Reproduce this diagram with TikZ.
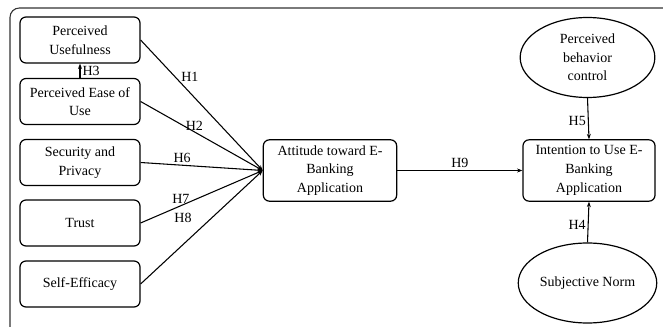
\documentclass[tikz,border=0pt]{standalone}
\usepackage{fontspec}
\setmainfont{Liberation Serif}
\usetikzlibrary{shapes.geometric,arrows.meta}
\begin{document}
\begin{tikzpicture}[
		x=0.75pt, y=-0.75pt,
		>={Stealth[length=4pt,width=3pt]},
		construct/.style={
			draw,
			rounded corners=4.5pt,
			line width=0.9pt,
			minimum width=90pt,
			minimum height=34.5pt,
			inner sep=1pt,
			align=center,
			font=\fontsize{10.5}{14}\selectfont
		},
		latent/.style={
			draw,
			ellipse,
			line width=0.9pt,
			minimum width=101pt,
			minimum height=60pt,
			inner sep=1pt,
			align=center,
			font=\fontsize{10.5}{14}\selectfont
		},
		hyp/.style={->, line width=0.8pt},
		lab/.style={
			font=\fontsize{10.5}{12}\selectfont,
			inner sep=1.5pt
		}
		]
		
		\useasboundingbox (0,0) rectangle (663,327);
		% Frame
		\draw[line width=0.8pt, black!80, rounded corners=7pt] (10,345) -- (10,8) -- (680,8);
		
		% Antecedents
		\node[construct] (pu) at (80,40) {Perceived\\Usefulness};
		\node[construct] (peou) at (80,101.5) {Perceived Ease of\\Use};
		\node[construct] (sp) at (80,162.5) {Security and\\Privacy};
		\node[construct] (trust) at (80,223) {Trust};
		\node[construct] (se) at (80,284) {Self-Efficacy};
		
		% Attitude and intention
		\node[construct, minimum width=100pt, minimum height=46pt] (att) at (330,170.5) {Attitude toward E-\\Banking\\Application};
		\node[construct, minimum width=99pt, minimum height=46pt] (int) at (589,170.5) {Intention to Use E-\\Banking\\Application};
		
		% Ellipses
		\node[latent] (pbc) at (587.5,57.5) {Perceived\\behavior\\control};
		\node[latent] (sn) at (587.5,283) {Subjective Norm};
		
		% Paths to attitude
		\draw[hyp] (pu.east) -- node[lab, pos=0.28, right=3pt] {H1} (att.west);
		\draw[hyp] (peou.east) -- node[lab, pos=0.44, above=-1pt] {H2} (att.west);
		\draw[hyp] (sp.east) -- node[lab, pos=0.34, above] {H6} (att.west);
		\draw[hyp] (trust.east) -- node[lab, pos=0.33, above] {H7} (att.west);
		\draw[hyp] (se.east) -- node[lab, pos=0.58, left=13pt] {H8} (att.west);
		
		% PEOU to PU
		\draw[hyp] (peou.north) -- node[lab, right=0pt] {H3} (pu.south);
		
		% Attitude to intention
		\draw[hyp] (att.east) -- node[lab, above] {H9} (int.west);
		
		% Ellipses to intention
		\draw[hyp] (pbc.south) -- node[lab, pos=0.56, left] {H5} (int.north);
		\draw[hyp] (sn.north) -- node[lab, pos=0.43, left] {H4} (int.south);
		
	\end{tikzpicture}
\end{document}
